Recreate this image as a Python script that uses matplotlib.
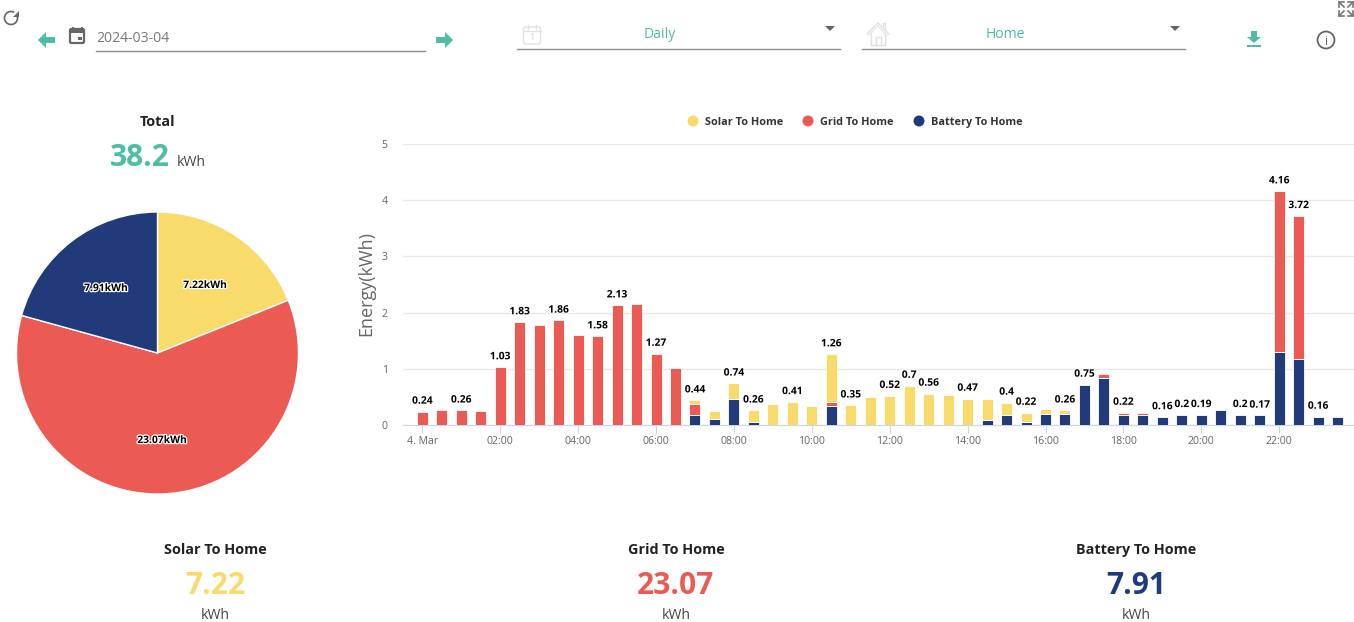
import numpy as np
import matplotlib
matplotlib.use('Agg')
import matplotlib.pyplot as plt
import matplotlib.patches as mp
import matplotlib.patheffects as pe

plt.rcParams['font.family'] = ['Open Sans', 'DejaVu Sans']

W, H = 1354, 622

# half hour slots, 48 of them
hours = np.arange(48) * 0.5
solar = [0, 0, 0, 0, 0, 0, 0, 0, 0, 0, 0, 0, 0, 0, 0.07, 0.15,
         0.285, 0.2, 0.38, 0.41, 0.34, 0.85, 0.35, 0.5, 0.52, 0.7, 0.56, 0.54, 0.47, 0.37, 0.23, 0.16,
         0.08, 0.07, 0, 0, 0, 0, 0, 0, 0, 0, 0, 0, 0, 0, 0, 0]
grid = [0.24, 0.27, 0.26, 0.25, 1.03, 1.83, 1.78, 1.86, 1.6, 1.58, 2.13, 2.16, 1.27, 1.01, 0.2, 0,
        0, 0, 0, 0, 0, 0.07, 0, 0, 0, 0, 0, 0, 0, 0, 0, 0,
        0, 0, 0, 0.085, 0.05, 0.05, 0, 0, 0, 0, 0, 0, 2.86, 2.55, 0, 0]
battery = [0, 0, 0, 0, 0, 0, 0, 0, 0, 0, 0, 0, 0, 0, 0.17, 0.1,
           0.455, 0.06, 0, 0, 0, 0.34, 0, 0, 0, 0, 0, 0, 0, 0.09, 0.17, 0.06,
           0.2, 0.19, 0.72, 0.83, 0.17, 0.17, 0.14, 0.18, 0.18, 0.27, 0.18, 0.17, 1.3, 1.17, 0.15, 0.135]
bar_labels = {0: '0.24', 2: '0.26', 4: '1.03', 5: '1.83', 7: '1.86', 9: '1.58', 10: '2.13', 12: '1.27',
              14: '0.44', 16: '0.74', 17: '0.26', 19: '0.41', 21: '1.26', 22: '0.35', 24: '0.52', 25: '0.7',
              26: '0.56', 28: '0.47', 30: '0.4', 31: '0.22', 33: '0.26', 34: '0.75', 36: '0.22', 38: '0.16',
              39: '0.2', 40: '0.19', 42: '0.2', 43: '0.17', 44: '4.16', 45: '3.72', 46: '0.16'}
tick_hours = list(range(0, 24, 2))
tick_labels = ['4. Mar'] + ['%02d:00' % h for h in tick_hours[1:]]

names = ['Solar To Home', 'Grid To Home', 'Battery To Home']
totals = [7.22, 23.07, 7.91]
total_all = '38.2'

YELLOW = '#f9db6b'
RED = '#ec5a54'
BLUE = '#203a7a'
TEAL = '#4fbca5'
colors = [YELLOW, RED, BLUE]


def px(size):
    return size * 0.72


def box(x0, y0, x1, y1):
    return [x0 / W, 1 - y1 / H, (x1 - x0) / W, (y1 - y0) / H]


fig = plt.figure(figsize=(W / 100, H / 100), dpi=100, facecolor='white')

# bars
ax = fig.add_axes(box(403, 144, 1354, 425))
ph = 38.95
ax.set_xlim((403 - 422.3) / ph, (1354 - 422.3) / ph)
ax.set_ylim(0, 5)
bw = 11 / ph
s, g, b = np.array(solar), np.array(grid), np.array(battery)
for vals, bottom, c in [(b, 0 * b, BLUE), (g, b, RED), (s, b + g, YELLOW)]:
    keep = vals > 0
    ax.bar(hours[keep], vals[keep], bottom=bottom[keep], width=bw, color=c,
           edgecolor='white', linewidth=0.6, zorder=3)
tops = s + g + b
for i, lab in bar_labels.items():
    ax.annotate(lab, (hours[i], tops[i]), xytext=(0, 3.5), textcoords='offset points',
                ha='center', va='bottom', fontsize=px(10.3), fontweight='bold', color='black',
                path_effects=[pe.withStroke(linewidth=1.5, foreground='white')], zorder=5)
for sp in ['top', 'left', 'right']:
    ax.spines[sp].set_visible(False)
ax.spines['bottom'].set_color('#ccd6eb')
ax.set_xticks(tick_hours)
ax.set_xticklabels(tick_labels)
ax.set_yticks(range(6))
ax.tick_params(axis='x', length=6, color='#ccd6eb', labelcolor='#666666', labelsize=px(10.5), pad=2)
ax.tick_params(axis='y', length=0, labelcolor='#666666', labelsize=px(10.5), pad=11)
ax.grid(axis='y', color='#e9e9e9', linewidth=1, zorder=0)
ax.set_axisbelow(True)
ax.patch.set_alpha(0)

# pie
pie_ax = fig.add_axes(box(157.5 - 142, 353 - 142, 157.5 + 142, 353 + 142))
pie_ax.pie(totals, colors=colors, startangle=90, counterclock=False, radius=141 / 142,
           wedgeprops=dict(edgecolor='white', linewidth=1))
pie_ax.set_xlim(-1, 1)
pie_ax.set_ylim(-1, 1)

# page furniture in pixel coordinates
ui = fig.add_axes([0, 0, 1, 1], zorder=10)
ui.set_xlim(0, W)
ui.set_ylim(H, 0)
ui.axis('off')
ui.patch.set_alpha(0)


def label(x, y, t, size, color='#333333', weight='normal', ha='center', **kw):
    return ui.text(x, y, t, fontsize=px(size), color=color, fontweight=weight, ha=ha,
                   va='center_baseline', **kw)


# pie labels
stroke = [pe.withStroke(linewidth=1.8, foreground='white')]
for (x, y), v in zip([(205, 284), (162, 439), (106, 287)], totals):
    label(x, y, '%.2fkWh' % v, 10.3, 'black', 'bold', path_effects=stroke)

label(158, 121, 'Total', 14.4, '#222222', 'bold')
label(140, 154, total_all, 30, TEAL, 'bold')
label(191, 161, 'kWh', 14, '#444444')

for x, n, v, c in zip([215, 676, 1136], names, totals, colors):
    label(x, 548.5, n, 14.4, '#222222', 'bold')
    label(x, 582, '%.2f' % v, 30, c, 'bold')
    label(x, 613.5, 'kWh', 14, '#444444')

# legend
for xm, n, c in zip([693, 808, 919], names, colors):
    ui.add_patch(mp.Circle((xm, 121), 5.5, color=c, lw=0))
    label(xm + 12, 121, n, 10.9, '#333333', 'bold', ha='left')

ui.text(366, 284, 'Energy(kWh)', fontsize=px(18), color='#666666', rotation=90, ha='center', va='center')

# toolbar
label(96, 37, '2024-03-04', 14, '#777777', ha='left')
label(660, 33, 'Daily', 14, TEAL)
label(1005, 33, 'Home', 14, TEAL)
for x0, x1, y in [(96, 425, 51), (517, 840, 49), (862, 1185, 49)]:
    ui.plot([x0, x1], [y, y], color='#8c8c8c', lw=1)

# arrows
ui.add_patch(mp.Polygon([(38, 40), (46, 32), (46, 37), (55, 37), (55, 43), (46, 43), (46, 48)], color=TEAL, lw=0))
ui.add_patch(mp.Polygon([(453, 40), (445, 32), (445, 37), (436, 37), (436, 43), (445, 43), (445, 48)], color=TEAL, lw=0))

# refresh
ui.add_patch(mp.Arc((11, 18), 13, 13, theta1=-20, theta2=300, color='#666666', lw=1.2))
ui.add_patch(mp.Polygon([(19, 11), (19, 17), (13, 17)], color='#666666', lw=0))

# calendar icon
ui.add_patch(mp.FancyBboxPatch((70, 29), 14, 14, boxstyle='round,pad=0,rounding_size=1.5', fc='white', ec='#666666', lw=1.6))
ui.add_patch(mp.Rectangle((69.5, 28.5), 15, 4, color='#666666', lw=0))
ui.add_patch(mp.Rectangle((72, 26.5), 1.6, 3, color='#666666', lw=0))
ui.add_patch(mp.Rectangle((81, 26.5), 1.6, 3, color='#666666', lw=0))
ui.add_patch(mp.Rectangle((78, 36.5), 3.5, 3.5, color='#666666', lw=0))

# pale calendar
ui.add_patch(mp.FancyBboxPatch((523.5, 27), 17, 17, boxstyle='round,pad=0,rounding_size=2', fc='white', ec='#e2e2e2', lw=1))
ui.plot([523.5, 540.5], [31, 31], color='#e2e2e2', lw=1)
ui.plot([528, 528], [25, 29], color='#e2e2e2', lw=1)
ui.plot([536, 536], [25, 29], color='#e2e2e2', lw=1)
label(532, 37, '1', 9, '#d0d0d0')

# pale house
ui.plot([867, 878, 889], [34, 23, 34], color='#e0e0e0', lw=1)
ui.plot([869, 878, 887], [35, 26, 35], color='#e6e6e6', lw=1)
ui.plot([871, 871, 885, 885], [34, 45, 45, 34], color='#e0e0e0', lw=1)
ui.plot([876, 876, 881, 881], [45, 37, 37, 45], color='#e0e0e0', lw=1)
ui.plot([883, 883, 885, 885], [26, 23, 23, 29], color='#e0e0e0', lw=1)

# dropdown carets
for x in [830, 1175]:
    ui.add_patch(mp.Polygon([(x - 5, 26), (x + 5, 26), (x, 31)], color='#666666', lw=0))

# download
ui.add_patch(mp.Polygon([(1251, 31), (1257, 31), (1257, 37), (1261, 37), (1254, 43), (1247, 37), (1251, 37)], color=TEAL, lw=0))
ui.add_patch(mp.Rectangle((1247, 44.5), 14, 2, color=TEAL, lw=0))

# info
ui.add_patch(mp.Circle((1326, 40), 8.5, fc='white', ec='#666666', lw=1.3))
label(1326, 40, 'i', 12, '#666666')

# fullscreen
for cx, cy, dx, dy in [(1339, 2, 1, 1), (1353, 2, -1, 1), (1339, 16, 1, -1), (1353, 16, -1, -1)]:
    ui.plot([cx + 5 * dx, cx, cx], [cy, cy, cy + 5 * dy], color='#777777', lw=1.2)
    ui.plot([cx, cx + 5 * dx], [cy, cy + 5 * dy], color='#777777', lw=1.2)

fig.savefig('out.png', dpi=100, facecolor='white')
